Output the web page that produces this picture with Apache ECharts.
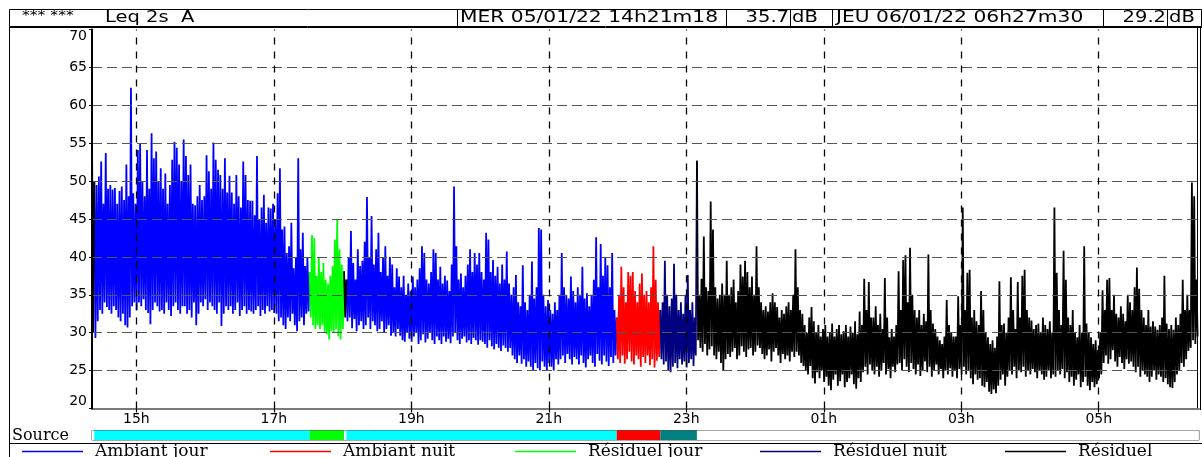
<!DOCTYPE html>
<html>
<head>
<meta charset="utf-8">
<script src="https://cdn.jsdelivr.net/npm/echarts@6/dist/echarts.min.js"></script>
<style>
html, body { margin: 0; padding: 0; background: #fff; }
#chart { width: 1202px; height: 457px; }
</style>
</head>
<body>
<div id="chart"></div>
<script>
// time axis in hours, past midnight keeps counting (25 = 01h)
const startHour = 14 + 21 / 60 + 18 / 3600;   // MER 05/01/22 14h21m18
const endHour = 30 + 27 / 60 + 30 / 3600;     // JEU 06/01/22 06h27m30
const stepHour = 2 / 60;                      // one column = 2 min

const hourTicks = [15, 17, 19, 21, 23, 25, 27, 29];
const sourceNames = ['Ambiant jour', 'Ambiant nuit', 'Résiduel jour', 'Résiduel nuit', 'Résiduel'];
const lineColors = ['#0000ff', '#ff0000', '#00ff00', '#000080', '#000000'];
const bandColors = ['#00ffff', '#ff0000', '#00ff00', '#008080', '#ffffff'];

// periods : first column of the period, and its source (index in sourceNames)
const periodStart = [0, 1, 95, 110, 111, 229, 248, 264];
const periodSource = [4, 0, 2, 4, 0, 1, 3, 4];

// Leq 2s A, max and min of each 2 min column (dB)
const hi = [
  56.1,50,49.5,50.6,52.6,47,53.7,49,49.5,48.9,
  49.1,47,48.7,49.3,47.5,52.2,48,62.3,48.4,47,
  54.1,55,50,48,54.1,49,56.3,53,53.9,50,
  51.7,49,51,47,49.5,52.8,55.2,54.4,52.2,50,
  55.5,53.3,50.8,52.2,47,46.8,48,49.5,47.5,48,
  53.4,51.3,49,55.1,52.8,51.5,50.8,49,53,48.5,
  50.7,48.5,47,50.8,48,46.5,52.6,50.8,47.5,47.4,
  47.4,45.5,53.3,45,46.5,48.2,44.5,46.5,46.4,47,
  45,48.4,51.7,43.6,44,40.5,41.4,44.5,38.5,40,
  53,41,43.2,38.8,40,38,42.9,42.5,37.5,40,
  38,39.2,37,36.5,37.5,38.8,42.3,44.9,41,39,
  38.1,37,40,43.4,39.2,37,41,38.8,39.5,42,
  47.9,40,45.4,39,41,43.2,38,40,41.4,37.5,
  40,39,36,38.5,37.4,36,37.5,35,36.5,35.5,
  37.4,36,37,38.5,41.4,40.5,37,36.5,38,41,
  40.5,37,38.7,36.5,37.5,36.9,35.5,39,49.3,41.4,
  37,37.8,36,37.5,39,41,38,40.5,39,40.5,
  38,37,43.2,42.3,38,39.6,37.5,38.7,36.5,39,
  37,40.7,36.5,35,36,37.6,34,33.5,38.9,34,
  33,35,39.4,34.5,36,43.8,43.6,35,33.5,34.3,
  33,32.5,34,33,35,40.5,36,35,34.5,37.4,
  35.5,34,36,35,38.7,34.5,35.2,33.5,35,37,
  42.6,36,41.7,37.5,40,38.9,36,40.5,33,
  32,35,38.7,36,34,38,37.5,38,35.5,34,36.5,37.8,35,35.5,34,36,41.4,37,34,
  33,34,39.5,35,33.5,34.5,39.1,35,33,34,32.5,35,37.6,33,34,32,
  52.7,35,37.1,42.7,36,35.5,47.3,43.6,36,34.5,
  35,36.5,35,39.5,35,36,37,34,35.5,39,
  37.4,39.5,38,36,37.4,35,41.4,
  36,34,33,33.5,32.8,34,35.2,34,33.4,32,
  33,32.5,33.5,34,33,35,41,36,33,32.5,
  31,30,32,33.4,31.5,30,31,29.5,30.5,31,
  29.5,30,31.2,29.5,30.5,31,29.8,30.2,31,29.5,
  30.8,30,31.5,29.8,32.8,31,37.1,33,36.7,32,
  32,33.5,31,32.5,30.5,37.2,32,29.4,30.5,29.5,
  31,38.1,33,39.6,40.2,34,41.2,35,33,32,
  33,31,32.5,31.5,40.3,33,31.2,30.5,29.5,29,
  28.5,29.5,34.3,31,30,29.5,29.5,34.8,31,46.5,
  33,37.9,38.3,32,33,31.5,31,35.5,33,30,
  29.4,28.5,29,28,29.5,36.8,31,31.2,30,32,
  37.3,33,30.5,36.7,32,37.5,38.3,33,32,31.6,
  30.5,31,31.2,30,32,31,30.5,31.5,30,46.5,
  37.9,33,31,40.8,37,32,31,33,30,29.4,
  31,30,41.4,31.2,30,29.4,28.5,29,27.7,30,
  35.6,33,37,37.2,33,35,32.5,32,33.5,32.5,
  31.5,35,34,33,36,38.6,35.8,33,32,31,
  33,30.8,31.5,30.8,30.4,31,32,37.5,31.2,30.5,
  31,30.4,32,31,32.5,37,33,35,33,49.8,48,37
];
const lo = [
  30,29.3,31.5,33,32.5,34,33.4,33,32.5,33.5,
  33,32,31.5,32.5,31,30.7,32,33.5,34,33,
  34,33.5,34.4,33,32.6,31.1,33,34,33.5,32.8,
  33,32.5,34,33,32.2,33.5,34,33,32.5,33.5,
  33.5,32.5,33,32,34,31,32.5,34,33.5,34.4,
  33,34,33.5,33,32.5,34,30.9,32.5,33.5,33,
  33.5,32.5,33,34,32.2,33,33.5,32.5,33,32.8,
  32.5,33,33.5,32.2,33,32.5,33.5,32.8,33,32.6,
  32.5,31.5,32,31,30.5,32,31.5,32.5,31,30.2,
  31.5,32,31,32.5,32.8,
  32,31,30.5,31,30.5,31,30,29.8,29.1,30.2,30,30.5,29.5,29.1,30.5,
  32,
  31.5,32,30.6,31.8,30.2,31,31.5,30.5,31,32,30.5,31.5,31,30.2,30.5,31.5,30,30.5,31,29.6,
  30,29.5,30.5,29.6,29,28.8,30,29.2,28.8,29.5,30,28.5,29,29.8,28.7,29.2,30,29,28.5,29.5,
  29,28.5,29.5,28.8,29.2,28.6,29.5,30,29,28.5,29.2,29.5,28.7,29,28.5,29.3,29,28.4,29,28.8,
  28.5,28,29,28.2,27.8,28.5,28,27.6,28.3,28,27.5,28,27,26.5,26,27,25.9,26.5,25.5,26.2,
  25.5,25,26,25.3,25,26.2,25.5,25,26,25.5,25,26.5,25.8,26.5,27,26,27.2,26.5,25.8,26.8,
  26.5,25.8,27,26,25.4,26.5,27,26,25.5,27.2,26.3,25.8,27,26.2,25.6,26.8,26,27,
  26.5,26,27,25.9,26.5,27.5,26.2,25.8,27,26.5,25.5,26.8,26,27,25.7,26.5,25.4,26.3,26.8,
  26.5,25.8,26.2,25,24.8,25.5,26,25.3,26.5,25.8,26.2,25.4,26,26.5,25.6,27,
  29,28,27.5,28.5,27,27.8,28.2,27,26.5,27.5,26,25,26.5,27.2,26.8,27.5,28,26.5,27,28.2,27.5,26.8,27.8,28,27,27.5,28.3,
  28,27.2,26.5,27,27.8,26.2,27.5,28,27,26,27.2,26.5,27,26.2,27.5,26.8,27.5,27,26,25.6,
  25,24.5,25.6,24,23.3,24.8,24,25,23.5,24.2,23,22.4,23.8,24.5,23,23.6,24.5,22.8,23.5,24,
  24.5,23.2,22.6,24,23.5,24.8,25.5,24.5,25.8,25,
  24.5,25.5,24.2,25,26,24.5,25.2,24,25.5,24.8,25.8,26,25,26.5,25.5,24.8,26,25.2,24.5,25.8,
  24.3,25,26.2,24.8,25.5,24.2,25,25.8,24.5,25.2,
  24,25,24.5,25.3,24.2,25,24,25.2,24.5,25.5,
  24.5,25,24,23.2,24.5,23.8,24,23,22.8,23.5,22.2,21.9,22.5,22,23,23.8,24.5,23,24.2,25,
  24.5,25.5,24,25,24.8,25.5,24.2,25,24.5,25.2,
  24.8,24,25,24.5,23.8,24.2,25,24,24.5,24.2,25,24.5,25.2,24,24.8,23.5,24.2,23,23.8,24.5,
  22.8,23.5,24.2,23,22.4,23.5,22.8,23.2,24,24.5,
  26,27,25.9,26.5,27.7,26.2,25.5,26.8,26,25.2,26.5,25.9,26.2,25.5,24.8,25.5,24.2,25,24.5,24.2,
  23.5,24.2,25,23.8,24.5,24.2,23.5,24,23.2,22.8,22.7,23.5,24.5,25,26,25.5,26.5,27.6,28,29,
  28.5,29.5
];

const nCols = Math.min(hi.length, lo.length);
function colTime(i) { return startHour + i * stepHour; }
function periodEnd(p) { return p + 1 < periodStart.length ? periodStart[p + 1] : nCols; }

let chart = echarts.init(document.getElementById('chart'));

let lineSeries = sourceNames.map((name, s) => {
  let data = [];
  periodStart.forEach((a, p) => {
    if (periodSource[p] !== s) return;
    let b = periodEnd(p);
    for (let i = a; i < b; i++) {
      data.push([colTime(i), hi[i]]);
      data.push([colTime(i + 0.5), lo[i]]);
    }
    if (b < nCols) data.push([colTime(b), hi[b]]);
    data.push([colTime(b), '-']);
  });
  return {
    name: name,
    type: 'line',
    xAxisIndex: 0,
    yAxisIndex: 0,
    data: data,
    symbol: 'none',
    connectNulls: false,
    color: lineColors[s],
    lineStyle: { color: lineColors[s], width: 1.8 },
    z: 2
  };
});

let bandData = periodStart.map((a, p) => [colTime(a), colTime(periodEnd(p)), periodSource[p]]);

const sans = '"DejaVu Sans", Arial, sans-serif';
const serif = '"DejaVu Serif", "Liberation Serif", serif';
const legendLeft = [22, 270, 515, 760, 1005];

let option = {
  animation: false,
  backgroundColor: '#fff',
  grid: [
    { left: 92, right: 3, top: 29.5, bottom: 48.5 },
    { left: 92, right: 3, top: 430.5, height: 9.5, show: true, borderColor: '#555', borderWidth: 1 }
  ],
  xAxis: [
    {
      type: 'value', gridIndex: 0, min: startHour, max: endHour,
      axisLine: { show: true, lineStyle: { color: '#7a7a7a', width: 2 } },
      axisTick: { show: true, customValues: hourTicks, length: 4, lineStyle: { color: '#000', width: 1.2 } },
      axisLabel: {
        customValues: hourTicks, margin: 4, color: '#000', fontFamily: sans, fontSize: 14,
        formatter: (v) => String(v % 24).padStart(2, '0') + 'h'
      },
      splitLine: { show: false }
    },
    {
      type: 'value', gridIndex: 1, min: startHour, max: endHour, show: false
    }
  ],
  yAxis: [
    {
      type: 'value', gridIndex: 0, min: 20, max: 70, interval: 5, z: 3,
      axisLine: { show: true, lineStyle: { color: '#000', width: 2 } },
      axisTick: { show: true, length: 3, lineStyle: { color: '#000' } },
      axisLabel: {
        margin: 5, color: '#000', fontFamily: sans, fontSize: 14,
        verticalAlignMinLabel: 'bottom', verticalAlignMaxLabel: 'top'
      },
      splitLine: {
        show: true, showMinLine: false, showMaxLine: false,
        lineStyle: { color: '#555', type: [10, 5], width: 1 }
      }
    },
    { type: 'value', gridIndex: 1, min: 0, max: 1, show: false }
  ],
  legend: sourceNames.map((n, k) => ({
    data: [n],
    left: legendLeft[k],
    top: 443,
    padding: 0,
    icon: 'rect',
    itemWidth: 61,
    itemHeight: 1.5,
    selectedMode: false,
    textStyle: { color: '#000', fontFamily: serif, fontSize: 17, padding: [0, 0, 0, 7] }
  })),
  graphic: [
    // header
    { type: 'rect', shape: { x: 9.5, y: 9.5, width: 1192, height: 17 }, style: { fill: '#fff', stroke: '#000', lineWidth: 1 } },
    { type: 'line', shape: { x1: 9, y1: 27.5, x2: 1202, y2: 27.5 }, style: { stroke: '#000', lineWidth: 1 } },
    { type: 'line', shape: { x1: 457.5, y1: 9, x2: 457.5, y2: 27 }, style: { stroke: '#000' } },
    { type: 'line', shape: { x1: 726.5, y1: 9, x2: 726.5, y2: 27 }, style: { stroke: '#000' } },
    { type: 'line', shape: { x1: 790.5, y1: 9, x2: 790.5, y2: 27 }, style: { stroke: '#000' } },
    { type: 'line', shape: { x1: 832.5, y1: 9, x2: 832.5, y2: 27 }, style: { stroke: '#000' } },
    { type: 'line', shape: { x1: 1103.5, y1: 9, x2: 1103.5, y2: 27 }, style: { stroke: '#000' } },
    { type: 'line', shape: { x1: 1167.5, y1: 9, x2: 1167.5, y2: 27 }, style: { stroke: '#000' } },
    { type: 'text', x: 22, y: 16, scaleX: 1.3, style: { text: '*** ***', fill: '#000', font: '12px ' + sans, verticalAlign: 'middle' } },
    { type: 'text', x: 105, y: 18.5, scaleX: 1.3, style: { text: 'Leq 2s  A', fill: '#000', font: '15px ' + sans, verticalAlign: 'middle' } },
    { type: 'text', x: 460, y: 18.5, scaleX: 1.35, style: { text: 'MER 05/01/22 14h21m18', fill: '#000', font: '15px ' + sans, verticalAlign: 'middle' } },
    { type: 'text', x: 789, y: 18.5, scaleX: 1.3, style: { text: '35.7', fill: '#000', font: '15px ' + sans, align: 'right', verticalAlign: 'middle' } },
    { type: 'text', x: 792, y: 18.5, scaleX: 1.3, style: { text: 'dB', fill: '#000', font: '15px ' + sans, verticalAlign: 'middle' } },
    { type: 'text', x: 836, y: 18.5, scaleX: 1.35, style: { text: 'JEU 06/01/22 06h27m30', fill: '#000', font: '15px ' + sans, verticalAlign: 'middle' } },
    { type: 'text', x: 1166, y: 18.5, scaleX: 1.3, style: { text: '29.2', fill: '#000', font: '15px ' + sans, align: 'right', verticalAlign: 'middle' } },
    { type: 'text', x: 1169, y: 18.5, scaleX: 1.3, style: { text: 'dB', fill: '#000', font: '15px ' + sans, verticalAlign: 'middle' } },
    // frame
    { type: 'line', shape: { x1: 9.5, y1: 27, x2: 9.5, y2: 457 }, style: { stroke: '#000', lineWidth: 1 } },
    { type: 'line', shape: { x1: 1197.5, y1: 28, x2: 1197.5, y2: 410 }, style: { stroke: '#000', lineWidth: 1 } },
    { type: 'line', shape: { x1: 1200.5, y1: 28, x2: 1200.5, y2: 410 }, style: { stroke: '#000', lineWidth: 1 } },
    { type: 'line', shape: { x1: 9, y1: 443.5, x2: 1202, y2: 443.5 }, style: { stroke: '#000', lineWidth: 1.2 } },
    { type: 'text', x: 12, y: 435.5, style: { text: 'Source', fill: '#000', font: '16px ' + serif, verticalAlign: 'middle' } }
  ],
  series: lineSeries.concat([
    {
      name: 'grille',
      type: 'line',
      xAxisIndex: 0,
      yAxisIndex: 0,
      data: [[startHour, '-']],
      symbol: 'none',
      z: 3,
      markLine: {
        silent: true,
        symbol: 'none',
        label: { show: false },
        lineStyle: { color: '#000', type: [7, 7], width: 1.3 },
        data: hourTicks.map(h => ({ xAxis: h }))
      }
    },
    {
      name: 'source',
      type: 'custom',
      xAxisIndex: 1,
      yAxisIndex: 1,
      data: bandData,
      renderItem: function (params, api) {
        let p0 = api.coord([api.value(0), 1]);
        let p1 = api.coord([api.value(1), 0]);
        return {
          type: 'rect',
          shape: { x: p0[0], y: p0[1], width: p1[0] - p0[0], height: p1[1] - p0[1] },
          style: { fill: bandColors[api.value(2)] }
        };
      }
    }
  ])
};

chart.setOption(option);
</script>
</body>
</html>
